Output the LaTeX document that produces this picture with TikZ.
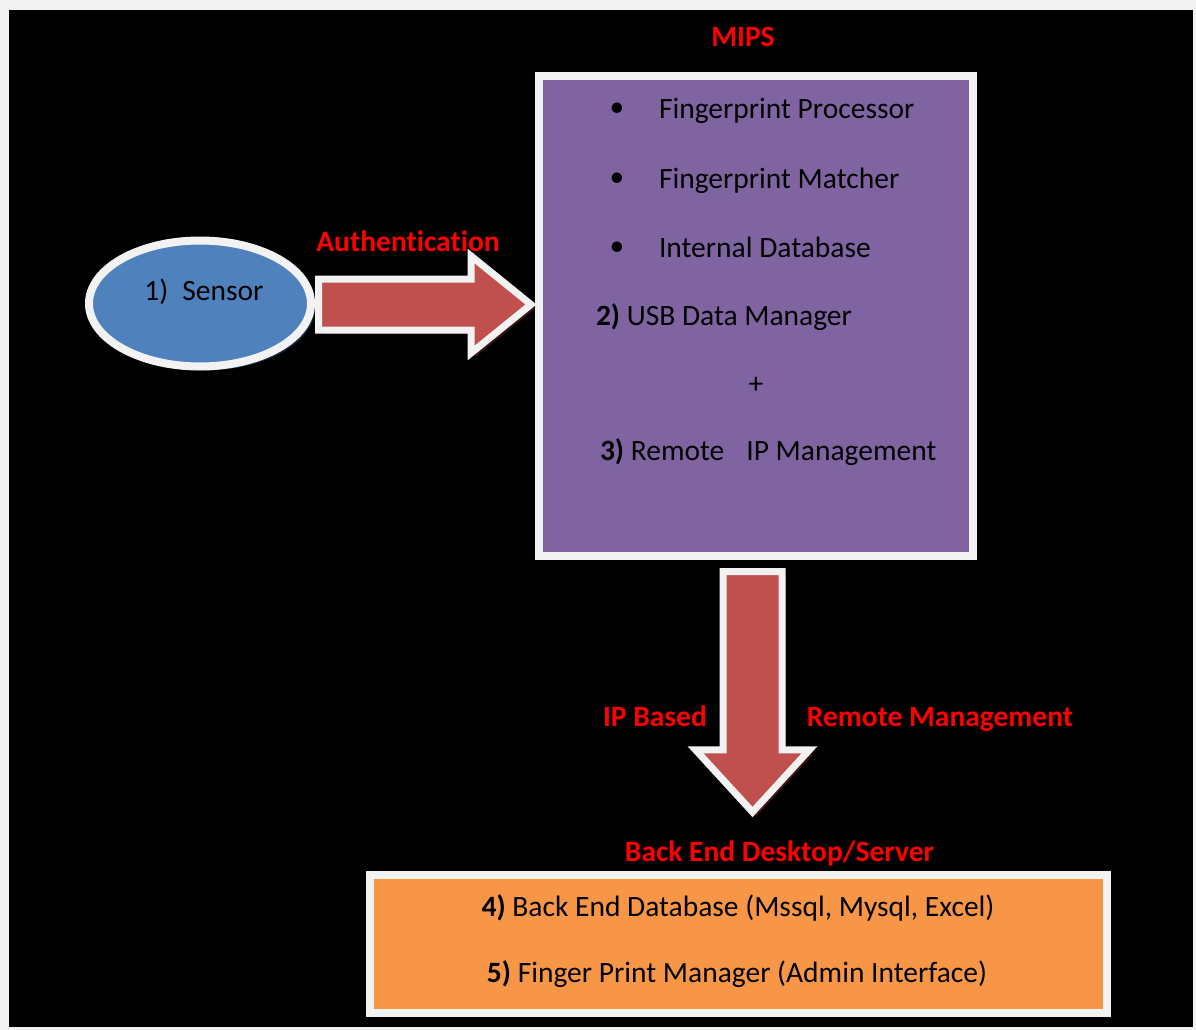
\documentclass[tikz,border=0pt]{standalone}
\usepackage{fontspec}
\setmainfont{Carlito}[Ligatures=NoCommon]
\usepackage{tikz}
\usetikzlibrary{shapes,arrows,positioning,calc,shadows}

\definecolor{pagegray}{HTML}{F2F2F2}
\definecolor{framewhite}{HTML}{F2F2F2}
\definecolor{sensorblue}{HTML}{4F81BD}
\definecolor{sensorshadow}{HTML}{1C2E45}
\definecolor{mipspurple}{HTML}{8064A2}
\definecolor{mipsshadow}{HTML}{2E2538}
\definecolor{arrowred}{HTML}{C0504D}
\definecolor{arrowshadow}{HTML}{3E1514}
\definecolor{backorange}{HTML}{F79646}
\definecolor{backshadow}{HTML}{4D2608}
\definecolor{labelred}{HTML}{FF0000}

\begin{document}
\begin{tikzpicture}[
    x=1pt, y=-1pt,
    font=\fontsize{29.5}{35}\selectfont,
    every node/.style={outer sep=0pt},
    sensornode/.style={ellipse, draw=framewhite, line width=8pt, fill=sensorblue, minimum width=222pt, minimum height=126pt, inner sep=0pt, text height=20pt, text depth=27pt,
        drop shadow={shadow xshift=4pt, shadow yshift=-4pt, fill=sensorshadow, opacity=1}},
    boxnode/.style={rectangle, draw=framewhite, line width=8pt, inner sep=0pt},
    blockarrow/.style={single arrow, draw=framewhite, line width=7pt, fill=arrowred, single arrow head indent=0pt,
        drop shadow={shadow xshift=4pt, shadow yshift=-4pt, fill=arrowshadow, opacity=1}},
    redlabel/.style={text=labelred, font=\fontsize{29.5}{35}\selectfont\bfseries, inner sep=0pt, anchor=base},
    itemtext/.style={anchor=base west, inner sep=0pt},
    linetext/.style={anchor=base, inner sep=0pt}
]

% page and black panel
\fill[pagegray] (0,0) rectangle (1196,1030);
\fill[black] (9,10) rectangle (1193,1027);

% Sensor
\node[sensornode] (sensor) at (200,303.5) {\hspace{8pt}1)\hspace{14pt}Sensor};

% MIPS box
\node[boxnode, fill=mipspurple, minimum width=434pt, minimum height=480pt,
    drop shadow={shadow xshift=4pt, shadow yshift=-4pt, fill=mipsshadow, opacity=1}] (mips) at (756,316) {};
\node[redlabel] (mipslabel) at (743,47) {MIPS};

% MIPS contents
\node[inner sep=0pt] (bulletA) at (617,110) {\textbullet};
\node[itemtext] (processor) at (659,119) {Fingerprint Processor};
\node[inner sep=0pt] (bulletB) at (617,180) {\textbullet};
\node[itemtext] (matcher) at (659,188) {Fingerprint Matcher};
\node[inner sep=0pt] (bulletC) at (617,249) {\textbullet};
\node[itemtext] (internaldb) at (659,257) {Internal Database};
\node[itemtext] (usbmgr) at (596,325) {\textbf{2)} USB Data Manager};
\node[inner sep=0pt] (plus) at (756,385) {+};
\node[itemtext] (ipmgr) at (600,460) {\textbf{3)} Remote\hspace{22pt}IP Management};

% Authentication arrow
\node[blockarrow, minimum height=212.5pt, inner sep=22pt, single arrow head extend=23pt, single arrow tip angle=78,
    anchor=tail] (authArrow) at ($(sensor.east)+(7.5,1)$) {};
\node[redlabel] (authlabel) at (408,251) {Authentication};

% Remote management arrow
\node[blockarrow, minimum height=240.5pt, inner sep=26pt, single arrow head extend=27.5pt, single arrow tip angle=85,
    shape border rotate=270, anchor=tail] (ipArrow) at ($(mips.south)+(-3.5,15.5)$) {};
\node[redlabel] (iplabel) at (655,726) {IP Based};
\node[redlabel] (remotelabel) at (940,726) {Remote Management};

% Back end box
\node[boxnode, fill=backorange, minimum width=737pt, minimum height=138pt,
    drop shadow={shadow xshift=4pt, shadow yshift=-4pt, fill=backshadow, opacity=1}] (backend) at (738.5,944) {};
\node[redlabel] (backlabel) at (779.5,861) {Back End Desktop/Server};
\node[linetext] (backdb) at (738,916) {\textbf{4)} Back End Database (Mssql, Mysql, Excel)};
\node[linetext] (fpmgr) at (737,982) {\textbf{5)} Finger Print Manager (Admin Interface)};

\end{tikzpicture}
\end{document}
